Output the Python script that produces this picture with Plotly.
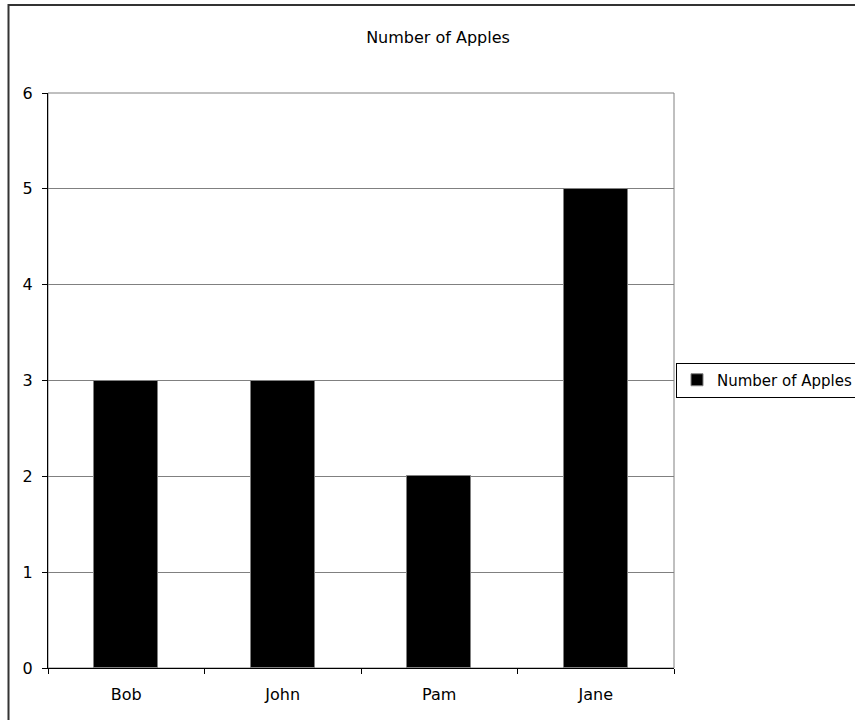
import plotly.graph_objects as go

names = ["Bob", "John", "Pam", "Jane"]
apples = [3, 3, 2, 5]
series_name = "Number of Apples"
chart_title = "Number of Apples"

W, H = 855, 720
L, R, T, B = 48, 181, 93, 52
pw, ph = W - L - R, H - T - B

def px_x(x):
    return (x - L) / pw

def px_y(y):
    return (H - B - y) / ph

FS = 16

fig = go.Figure()
fig.add_trace(go.Bar(
    x=names, y=apples, name=series_name,
    marker=dict(color="black", line=dict(color="#808080", width=1)),
    width=0.41,
))

fig.update_layout(
    width=W, height=H,
    margin=dict(l=L, r=R, t=T, b=B, autoexpand=False),
    paper_bgcolor="white", plot_bgcolor="white",
    font=dict(family="DejaVu Sans, Verdana, sans-serif", size=FS, color="black"),
    title=dict(text=chart_title, x=438 / W, xref="container", xanchor="center",
               y=1 - 37 / H, yref="container", yanchor="middle", font=dict(size=FS)),
    showlegend=True,
    legend=dict(x=px_x(676), y=px_y(380), xanchor="left", yanchor="middle",
                bordercolor="black", borderwidth=1, bgcolor="white",
                font=dict(size=15), itemwidth=30, tracegroupgap=0),
    bargap=0,
    shapes=[
        dict(type="rect", xref="paper", yref="paper", x0=0, x1=1, y0=0, y1=1,
             line=dict(color="#808080", width=1), layer="below"),
        dict(type="rect", xref="paper", yref="paper",
             x0=px_x(8.5), x1=px_x(900), y0=px_y(5), y1=px_y(760),
             line=dict(color="#333333", width=2)),
    ],
)
fig.update_xaxes(
    showline=True, linecolor="black", linewidth=1,
    ticks="outside", tickson="boundaries", ticklen=5, tickcolor="black",
    showgrid=False, tickfont=dict(size=FS), ticklabelstandoff=12,
)
fig.update_yaxes(
    range=[0, 6], dtick=1, showline=True, linecolor="black", linewidth=1,
    ticks="outside", ticklen=5, tickcolor="black",
    showgrid=True, gridcolor="#808080", gridwidth=1,
    zeroline=False, tickfont=dict(size=FS), ticklabelstandoff=6,
)

fig.write_html("out.html", config={"displayModeBar": False},
               post_script="document.body.style.margin='0';")
